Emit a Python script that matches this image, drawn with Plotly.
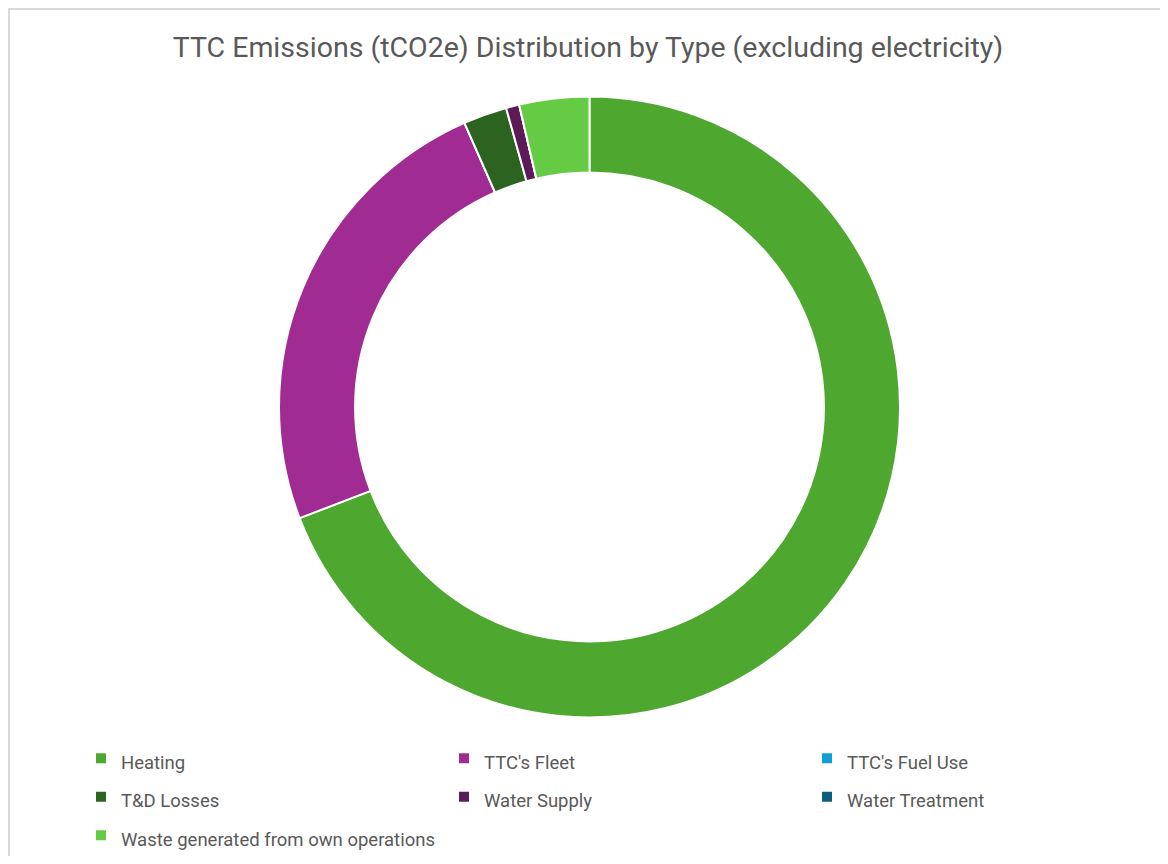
import plotly.graph_objects as go

# Data (tCO2e share)
categories = ["Heating", "TTC's Fleet", "TTC's Fuel Use", "T&D Losses",
              "Water Supply", "Water Treatment", "Waste generated from own operations"]
values = [69.18, 24.23, 0.0, 2.27, 0.69, 0.0, 3.64]
colors = ["#4EA72E", "#A02B93", "#0F9ED5", "#2D6320", "#5C1A56", "#0B5E7E", "#66CB44"]

# figure size (page body adds an 8px margin around the figure)
W, H = 1152, 848
OFF = 8
TEXT = "#595959"
FONT = "Roboto, Liberation Sans, Arial, sans-serif"

# legend labels rendered at 18.5px inside a taller legend line (Excel-like row spacing)
legend_labels = ['<span style="font-size:18.5px">%s</span>' % c for c in categories]

cx, cy, R = 589.5 - OFF, 407.0 - OFF, 310.5
fig = go.Figure(go.Pie(
    labels=legend_labels,
    values=values,
    hole=0.755,
    sort=False,
    direction="clockwise",
    rotation=0,
    textinfo="none",
    hoverinfo="label+value+percent",
    marker=dict(colors=colors, line=dict(color="white", width=2)),
    domain=dict(x=[(cx - R) / W, (cx + R) / W], y=[(H - cy - R) / H, (H - cy + R) / H]),
))

fig.update_layout(
    width=W, height=H,
    margin=dict(l=0, r=0, t=0, b=0, autoexpand=False),
    paper_bgcolor="white",
    plot_bgcolor="white",
    font=dict(family=FONT, color=TEXT),
    title=dict(text="TTC Emissions (tCO2e) Distribution by Type (excluding electricity)",
               x=(588 - OFF) / W, xanchor="center", y=1 - (47 - OFF) / H, yanchor="middle",
               font=dict(size=28.5, color=TEXT, family=FONT)),
    legend=dict(orientation="h", x=(121 - OFF - 40) / W, xanchor="left",
                y=1 - (761 - OFF - 27) / H, yanchor="top",
                entrywidth=318, entrywidthmode="pixels",
                font=dict(size=27.3, color=TEXT, family=FONT),
                bgcolor="rgba(0,0,0,0)"),
    shapes=[dict(type="rect", xref="paper", yref="paper",
                 x0=1 / W, x1=1.05, y0=-0.05, y1=1 - 1 / H,
                 line=dict(color="#D9D9D9", width=2), fillcolor="rgba(0,0,0,0)", layer="below")],
)

fig.write_html("out.html")
